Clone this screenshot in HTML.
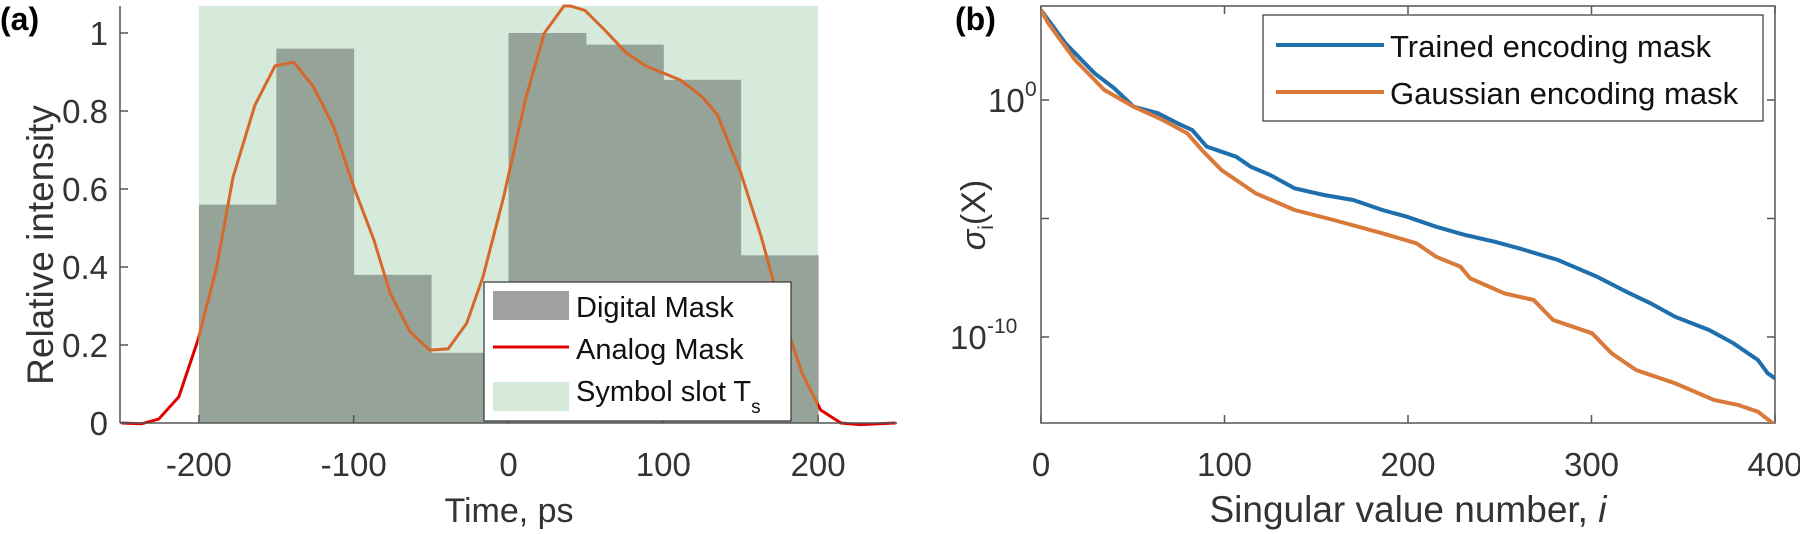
<!DOCTYPE html>
<html><head><meta charset="utf-8"><style>
html,body{margin:0;padding:0;background:#fff;}
svg{display:block;font-family:"Liberation Sans",sans-serif;}
</style></head><body>
<svg id="s" width="1800" height="534" viewBox="0 0 1800 534" xmlns="http://www.w3.org/2000/svg">
<defs>
<clipPath id="inS"><rect x="198" y="0" width="620" height="534"/></clipPath>
<clipPath id="outS"><path d="M0 0H198V534H0Z M818 0H1800V534H818Z"/></clipPath>
<clipPath id="ax2"><rect x="1041" y="6" width="734" height="417"/></clipPath>
</defs>
<g id="left"></g>
<g id="right"></g>
</svg>
<script>
const NS="http://www.w3.org/2000/svg";
function el(p,t,a,txt){const e=document.createElementNS(NS,t);for(const k in a)e.setAttribute(k,a[k]);if(txt!==undefined)e.textContent=txt;p.appendChild(e);return e;}
const L=document.getElementById('left'),R=document.getElementById('right');
const X=t=>508.5+t*1.548, Y=v=>423-v*390;
el(L,'rect',{x:X(-200),y:6,width:X(200)-X(-200),height:417,fill:'#d6eadb'});
const bars=[0.56,0.96,0.38,0.18,1.0,0.97,0.88,0.43];
bars.forEach((v,i)=>{const t=-200+i*50;el(L,'rect',{x:X(t),y:Y(v),width:X(t+50)-X(t)+0.5,height:423-Y(v),fill:'#96a398'});});
const pts=[[-250,0],[-237,-0.002],[-226,0.01],[-213,0.067],[-200.6,0.213],[-188.5,0.40],[-178,0.63],[-163.8,0.815],[-150.8,0.916],[-138.6,0.925],[-126,0.862],[-113,0.76],[-100,0.606],[-87,0.47],[-76.5,0.333],[-63.6,0.234],[-51,0.187],[-39,0.19],[-27,0.256],[-16.5,0.375],[-3.1,0.58],[11.2,0.833],[23.2,1.0],[35.8,1.075],[40,1.08],[49.4,1.058],[62.6,1.006],[75.8,0.95],[88.8,0.915],[110.8,0.88],[125,0.837],[135,0.79],[150.2,0.64],[163.4,0.476],[176.5,0.285],[189.6,0.128],[201.7,0.033],[214.8,0.0],[227,-0.004],[250,0]];
const ps=pts.map(p=>X(p[0]).toFixed(1)+','+Math.max(6,Y(p[1])).toFixed(1)).join(' ');
el(L,'polyline',{points:ps,fill:'none',stroke:'#e00000','stroke-width':3,'clip-path':'url(#outS)'});
el(L,'polyline',{points:ps,fill:'none',stroke:'#d6682c','stroke-width':3,'clip-path':'url(#inS)'});
el(L,'line',{x1:120,y1:6,x2:120,y2:423,stroke:'#555','stroke-width':1.5});
el(L,'line',{x1:120,y1:423,x2:897,y2:423,stroke:'#555','stroke-width':1.5});
[0,0.2,0.4,0.6,0.8,1].forEach(v=>{el(L,'line',{x1:120,y1:Y(v),x2:128,y2:Y(v),stroke:'#555','stroke-width':1.5});
 el(L,'text',{x:108,y:Y(v)+12,'text-anchor':'end','font-size':33,fill:'#333'},String(v));});
[-200,-100,0,100,200].forEach(t=>{el(L,'line',{x1:X(t),y1:423,x2:X(t),y2:415,stroke:'#555','stroke-width':1.5});
 el(L,'text',{x:X(t),y:476,'text-anchor':'middle','font-size':33,fill:'#333'},String(t));});
el(L,'text',{x:509,y:522,'text-anchor':'middle','font-size':34,fill:'#333'},'Time, ps');
el(L,'text',{x:0,y:0,transform:'translate(53,245) rotate(-90)','text-anchor':'middle','font-size':37,fill:'#333'},'Relative intensity');
el(L,'text',{x:0,y:30,'font-size':32,'font-weight':'bold',fill:'#000'},'(a)');
el(L,'rect',{x:484,y:282,width:307,height:139,fill:'#fff',stroke:'#333','stroke-width':1.2});
el(L,'rect',{x:493,y:291,width:76,height:29,fill:'#a0a0a0'});
el(L,'line',{x1:493,y1:347,x2:569,y2:347,stroke:'#e00000','stroke-width':3});
el(L,'rect',{x:493,y:382,width:76,height:29,fill:'#d6eadb'});
el(L,'text',{x:576,y:317,'font-size':29,fill:'#111'},'Digital Mask');
el(L,'text',{x:576,y:359,'font-size':29,fill:'#111'},'Analog Mask');
const t3=el(L,'text',{x:576,y:401,'font-size':29,fill:'#111'},'Symbol slot T');
el(t3,'tspan',{'font-size':19,dy:12},'s');
const xr=i=>1041+i*1.835, yr=l=>100-l*23.7;
el(R,'rect',{x:1041,y:6,width:734,height:417,fill:'none',stroke:'#555','stroke-width':1.5});
[0,100,200,300,400].forEach(i=>{el(R,'line',{x1:xr(i),y1:423,x2:xr(i),y2:415,stroke:'#555','stroke-width':1.5});
 el(R,'line',{x1:xr(i),y1:6,x2:xr(i),y2:14,stroke:'#555','stroke-width':1.5});
 el(R,'text',{x:xr(i),y:476,'text-anchor':'middle','font-size':33,fill:'#333'},String(i));});
[0,-5,-10].forEach(l=>{el(R,'line',{x1:1041,y1:yr(l),x2:1049,y2:yr(l),stroke:'#555','stroke-width':1.5});
 el(R,'line',{x1:1775,y1:yr(l),x2:1767,y2:yr(l),stroke:'#555','stroke-width':1.5});});
el(R,'text',{x:988,y:112,'font-size':33,fill:'#333'},'10');
el(R,'text',{x:1025,y:96,'font-size':21,fill:'#333'},'0');
el(R,'text',{x:950,y:349,'font-size':33,fill:'#333'},'10');
el(R,'text',{x:987,y:333,'font-size':21,fill:'#333'},'-10');
const sg=el(R,'text',{x:0,y:0,transform:'translate(985,215) rotate(-90)','text-anchor':'middle','font-size':34,fill:'#333'},'');
el(sg,'tspan',{'font-style':'italic'},'σ');el(sg,'tspan',{'font-size':21,dy:8},'i');el(sg,'tspan',{dy:-8},'(X)');
const xl=el(R,'text',{x:1408,y:522,'text-anchor':'middle','font-size':37,fill:'#333'},'Singular value number, ');
el(xl,'tspan',{'font-style':'italic'},'i');
el(R,'text',{x:955,y:30,'font-size':32,'font-weight':'bold',fill:'#000'},'(b)');
const tr=(arr)=>arr.map(p=>(1041+p[0]*0.4877).toFixed(1)+','+(p[1]/3).toFixed(1)).join(' ');
const blue=[[0,30],[20,70],[50,130],[80,175],[110,220],[150,265],[190,320],[240,340],[280,370],[310,390],[340,440],[400,470],[430,500],[470,525],[520,565],[580,585],[640,600],[700,630],[750,650],[810,680],[870,705],[930,725],[980,745],[1060,780],[1140,830],[1200,875],[1250,910],[1300,950],[1370,990],[1420,1030],[1470,1080],[1490,1120],[1505,1135]];
const orng=[[0,30],[15,70],[30,100],[70,180],[130,270],[190,320],[250,360],[300,400],[330,450],[370,510],[440,580],[520,630],[600,660],[700,700],[770,730],[810,770],[860,800],[880,835],[950,880],[1010,900],[1050,960],[1130,1000],[1170,1060],[1220,1110],[1300,1150],[1380,1200],[1430,1215],[1470,1235],[1505,1275]];
el(R,'polyline',{points:tr(blue),fill:'none',stroke:'#1f6fad','stroke-width':4,'clip-path':'url(#ax2)'});
el(R,'polyline',{points:tr(orng),fill:'none',stroke:'#da7a3a','stroke-width':4,'clip-path':'url(#ax2)'});
el(R,'rect',{x:1263,y:15,width:500,height:106,fill:'#fff',stroke:'#333','stroke-width':1.2});
el(R,'line',{x1:1276,y1:45,x2:1384,y2:45,stroke:'#1f6fad','stroke-width':4});
el(R,'line',{x1:1276,y1:92,x2:1384,y2:92,stroke:'#da7a3a','stroke-width':4});
el(R,'text',{x:1390,y:57,'font-size':31,fill:'#111'},'Trained encoding mask');
el(R,'text',{x:1390,y:104,'font-size':31,fill:'#111'},'Gaussian encoding mask');
</script>
</body></html>
